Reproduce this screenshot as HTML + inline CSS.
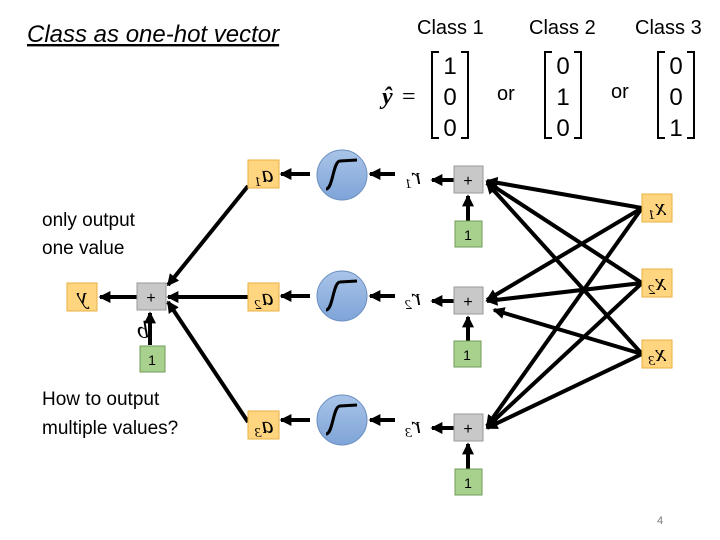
<!DOCTYPE html>
<html><head><meta charset="utf-8"><style>
body{margin:0;background:#fff;}
svg{display:block;font-family:"Liberation Sans",sans-serif;}
</style></head><body>
<svg width="720" height="540" viewBox="0 0 720 540" xmlns="http://www.w3.org/2000/svg">
<defs>
<marker id="ah" markerWidth="3" markerHeight="3" refX="2.6" refY="1.5" orient="auto" markerUnits="strokeWidth"><path d="M0,0 L3,1.5 L0,3 z" fill="#000"/></marker>
<linearGradient id="cg" x1="0" y1="0" x2="0" y2="1"><stop offset="0" stop-color="#a9c4e8"/><stop offset="1" stop-color="#7ea4d8"/></linearGradient>
</defs>
<text x="27" y="42" font-size="24" font-style="italic" text-decoration="underline">Class as one-hot vector</text>
<text x="417" y="34" font-size="20">Class 1</text>
<text x="529" y="34" font-size="20">Class 2</text>
<text x="635" y="34" font-size="20">Class 3</text>
<text x="382" y="104" font-size="24" font-style="italic" font-weight="bold" font-family="Liberation Serif, serif">ŷ</text>
<text x="402" y="104" font-size="24" font-family="Liberation Serif, serif">=</text>
<g font-size="24" text-anchor="middle">
<text x="450" y="74">1</text><text x="450" y="105">0</text><text x="450" y="136">0</text>
<text x="563" y="74">0</text><text x="563" y="105">1</text><text x="563" y="136">0</text>
<text x="676" y="74">0</text><text x="676" y="105">0</text><text x="676" y="136">1</text>
</g>
<g fill="none" stroke="#000" stroke-width="2">
<path d="M439,52 h-7 v86 h7 M461,52 h7 v86 h-7"/>
<path d="M552,52 h-7 v86 h7 M574,52 h7 v86 h-7"/>
<path d="M665,52 h-7 v86 h7 M687,52 h7 v86 h-7"/>
</g>
<text x="497" y="100" font-size="20">or</text>
<text x="611" y="98" font-size="20">or</text>
<text x="42" y="226" font-size="19">only output</text>
<text x="42" y="254" font-size="19">one value</text>
<text x="42" y="405" font-size="19">How to output</text>
<text x="42" y="434" font-size="19">multiple values?</text>
<text x="657" y="524" font-size="11" fill="#777">4</text>

<g stroke="#000" stroke-width="4" marker-end="url(#ah)">
<line x1="642" y1="208" x2="487" y2="181"/>
<line x1="642" y1="283" x2="487" y2="182"/>
<line x1="642" y1="354" x2="487" y2="183"/>
<line x1="642" y1="208" x2="487" y2="300"/>
<line x1="642" y1="283" x2="487" y2="301"/>
<line x1="642" y1="354" x2="494" y2="310"/>
<line x1="642" y1="208" x2="487" y2="426"/>
<line x1="642" y1="283" x2="487" y2="427"/>
<line x1="642" y1="354" x2="487" y2="428"/>
<line x1="468" y1="221" x2="468" y2="196"/>
<line x1="468" y1="341" x2="468" y2="317"/>
<line x1="468" y1="469" x2="468" y2="444"/>
<line x1="454" y1="180" x2="432" y2="180"/>
<line x1="454" y1="301" x2="432" y2="301"/>
<line x1="454" y1="428" x2="432" y2="428"/>
<line x1="395" y1="174" x2="370" y2="174"/>
<line x1="395" y1="296" x2="370" y2="296"/>
<line x1="395" y1="420" x2="370" y2="420"/>
<line x1="310" y1="174" x2="281" y2="174"/>
<line x1="310" y1="296" x2="281" y2="296"/>
<line x1="310" y1="420" x2="281" y2="420"/>
<line x1="248" y1="186" x2="168" y2="285"/>
<line x1="248" y1="297" x2="168" y2="297"/>
<line x1="248" y1="422" x2="168" y2="302"/>
<line x1="137" y1="297" x2="100" y2="297"/>
<line x1="150" y1="345" x2="150" y2="313"/>
</g>

<g stroke="#6a8ec0" stroke-width="1" fill="url(#cg)">
<circle cx="342" cy="175" r="25"/><circle cx="342" cy="296" r="25"/><circle cx="342" cy="420" r="25"/>
</g>
<g fill="none" stroke="#000" stroke-width="3">
<path d="M326,189 C333,189 333,161 340,161 L357,160"/>
<path d="M326,310 C333,310 333,282 340,282 L357,281"/>
<path d="M326,434 C333,434 333,406 340,406 L357,405"/>
</g>

<g fill="#c8c8c8" stroke="#999">
<rect x="454" y="166" width="29" height="27"/><rect x="454" y="287" width="29" height="27"/><rect x="454" y="414" width="29" height="27"/>
<rect x="137" y="283" width="29" height="27"/>
</g>
<g fill="#a9d18e" stroke="#6f9a55">
<rect x="455" y="221" width="27" height="26"/><rect x="454" y="341" width="27" height="26"/><rect x="455" y="469" width="27" height="26"/>
<rect x="140" y="346" width="25" height="26"/>
</g>
<g fill="#ffd580" stroke="#e8b040">
<rect x="642" y="194" width="30" height="28"/><rect x="642" y="269" width="30" height="28"/><rect x="642" y="340" width="30" height="28"/>
<rect x="248" y="160" width="31" height="28"/><rect x="248" y="283" width="31" height="28"/><rect x="248" y="411" width="31" height="28"/>
<rect x="67" y="283" width="30" height="28"/>
</g>
<g font-size="16" text-anchor="middle">
<text x="468" y="186">+</text><text x="468" y="307">+</text><text x="468" y="434">+</text><text x="151" y="303">+</text>
<text x="468" y="240" font-size="14">1</text><text x="467" y="360" font-size="14">1</text><text x="468" y="488" font-size="14">1</text><text x="152" y="365" font-size="14">1</text>
</g>
<g font-family="Liberation Serif, serif" font-style="italic" font-size="24" text-anchor="middle">
<text transform="translate(657,215) scale(-1,1)">x<tspan font-size="14" dy="4">1</tspan></text>
<text transform="translate(657,290) scale(-1,1)">x<tspan font-size="14" dy="4">2</tspan></text>
<text transform="translate(657,361) scale(-1,1)">x<tspan font-size="14" dy="4">3</tspan></text>
<text transform="translate(264,182) scale(-1,1)">a<tspan font-size="14" dy="4">1</tspan></text>
<text transform="translate(264,305) scale(-1,1)">a<tspan font-size="14" dy="4">2</tspan></text>
<text transform="translate(264,433) scale(-1,1)">a<tspan font-size="14" dy="4">3</tspan></text>
<text transform="translate(413,184) scale(-1,1)">r<tspan font-size="14" dy="4">1</tspan></text>
<text transform="translate(413,305) scale(-1,1)">r<tspan font-size="14" dy="4">2</tspan></text>
<text transform="translate(413,433) scale(-1,1)">r<tspan font-size="14" dy="4">3</tspan></text>
<text transform="translate(82,304) scale(-1,1)">y</text>
<text transform="translate(143,338) scale(-1,1)">b</text>
</g>
</svg>
</body></html>
